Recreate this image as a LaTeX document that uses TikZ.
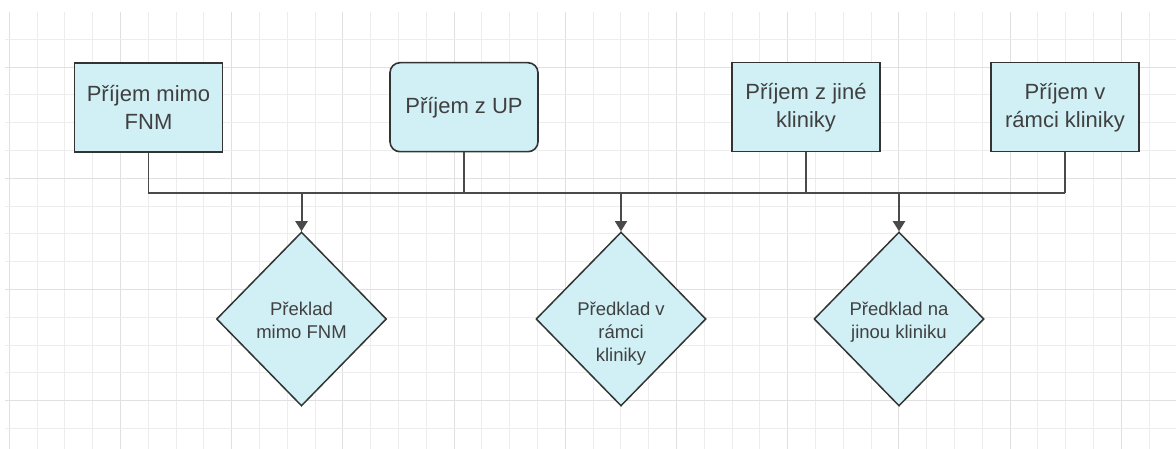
\documentclass[tikz,border=0pt]{standalone}
\usepackage{fontspec}
\setmainfont{Liberation Sans}
\usetikzlibrary{shapes.geometric,arrows.meta}
\definecolor{gridminor}{HTML}{EDEDED}
\definecolor{gridmajor}{HTML}{E0E0E0}
\definecolor{boxfill}{HTML}{D1F0F5}
\definecolor{boxline}{HTML}{333333}
\definecolor{txt}{HTML}{404040}
\definecolor{conn}{HTML}{4A4A4A}
\tikzset{
  procbox/.style={draw=boxline,fill=boxfill,line width=1.6pt,minimum width=148pt,minimum height=89pt,inner sep=0pt,align=center,text=txt,font=\fontsize{22}{28}\selectfont},
  roundbox/.style={procbox,rounded corners=10pt},
  decision/.style={diamond,draw=boxline,fill=boxfill,line width=1.5pt,minimum width=170pt,minimum height=174pt,inner sep=0pt},
  dtext/.style={align=center,text=txt,font=\fontsize{18.5}{23}\selectfont,inner sep=0pt,anchor=north},
  busline/.style={draw=conn,line width=1.1pt},
  arrowline/.style={draw=conn,line width=1.1pt,-{Triangle[length=10pt,width=12pt]}},
  thickarrow/.style={arrowline,line width=2pt},
}
\begin{document}
\begin{tikzpicture}[x=1pt,y=-1pt]
\useasboundingbox (0,0) rectangle (1176,449);
\fill[white] (0,0) rectangle (1176,449);
% grid
\foreach \i in {0,...,41}{
  \pgfmathtruncatemacro{\m}{mod(\i,4)}
  \ifnum\m=0 \def\gc{gridmajor}\else\def\gc{gridminor}\fi
  \draw[\gc,line width=1pt] ({9.3+27.8*\i},12) -- ({9.3+27.8*\i},449);
}
\foreach \k in {0,...,14}{
  \pgfmathtruncatemacro{\m}{mod(\k,4)}
  \ifnum\m=1 \def\gc{gridmajor}\else\def\gc{gridminor}\fi
  \draw[\gc,line width=1pt] (5,{39.3+27.8*\k}) -- (1176,{39.3+27.8*\k});
}
% boxes
\node[procbox]  (b1) at (148.5,107.5) {Příjem mimo\\FNM};
\node[roundbox] (b2) at (464,107.2)   {Příjem z UP};
\node[procbox]  (b3) at (806,107.2)   {Příjem z jiné\\kliniky};
\node[procbox]  (b4) at (1065,107.2)  {Příjem v\\rámci kliniky};
% diamonds
\node[decision] (d1) at (301.5,319) {};
\node[decision] (d2) at (621,319) {};
\node[decision] (d3) at (899,319) {};
\node[dtext] (t1) at ([yshift=17.5pt]d1.center) {Překlad\\mimo FNM};
\node[dtext] (t2) at ([yshift=17.5pt]d2.center) {Předklad v\\rámci\\kliniky};
\node[dtext] (t3) at ([yshift=17.5pt]d3.center) {Předklad na\\jinou kliniku};
% bus
\coordinate (busL) at (149,193);
\coordinate (busR) at (1064.5,193);
\draw[busline] (b1.south) |- (busR);
\draw[busline] (b2.south) -- (b2.south |- busL);
\draw[busline] (b3.south) -- (b3.south |- busL);
\draw[busline] (b4.south) -- (b4.south |- busR);
% arrows
\draw[thickarrow] (d1.north |- busL) -- (d1.north);
\draw[arrowline]  (d2.north |- busL) -- (d2.north);
\draw[thickarrow] (d3.north |- busL) -- (d3.north);
\end{tikzpicture}
\end{document}
